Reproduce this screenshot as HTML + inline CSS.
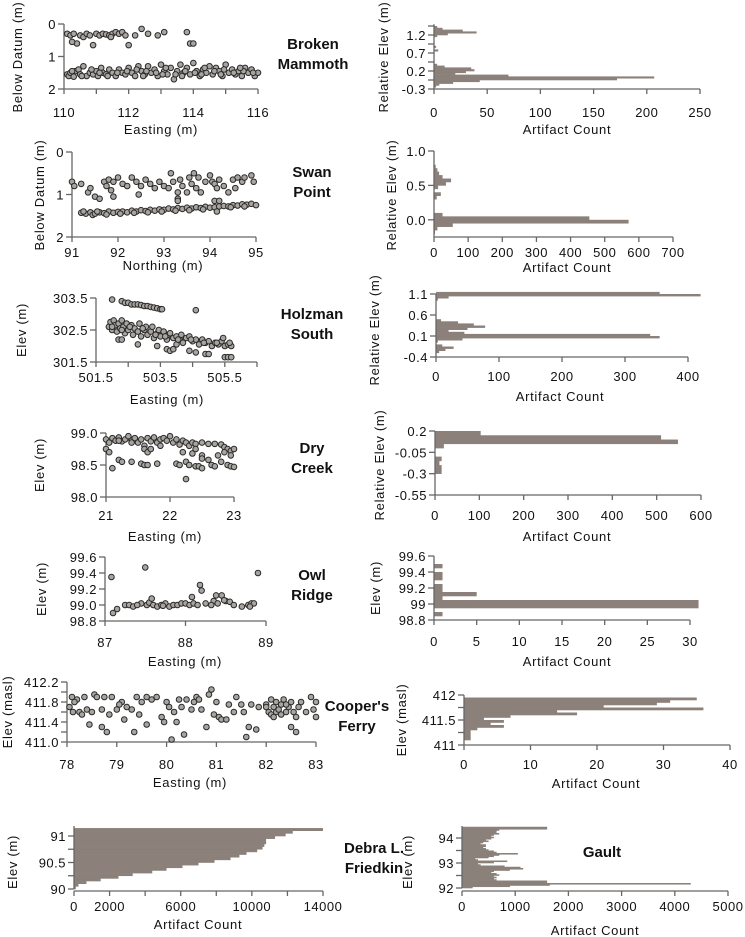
<!DOCTYPE html>
<html><head><meta charset="utf-8"><style>
body{margin:0;background:#fff}
svg{display:block;font-family:"Liberation Sans",sans-serif}
.tk{font-size:13px;fill:#111;letter-spacing:0.5px}
.ti{font-size:13px;fill:#111;letter-spacing:0.7px}
.site{font-size:15px;font-weight:bold;fill:#111}
</style></head><body>
<svg id="fig" width="745" height="937" viewBox="0 0 745 937"></svg>
<script>
// ---------- DATA ----------
const bmX=[110.1,110.2,110.3,110.4,110.5,110.6,110.7,110.8,110.9,111.0,111.1,111.2,111.3,111.4,111.5,111.6,111.7,111.8,111.9,112.0,112.2,112.4,112.6,112.9,113.1,113.8,113.9,114.0,111.45,110.25,
110.1,110.15,110.2,110.3,110.35,110.45,110.5,110.6,110.7,110.8,110.9,111.0,111.05,111.15,111.2,111.3,111.4,111.5,111.6,111.7,111.8,111.9,112.0,112.1,112.2,112.3,112.4,112.5,112.6,112.7,112.8,112.9,113.0,113.1,113.2,113.3,113.4,113.5,113.6,113.7,113.8,113.9,114.0,114.1,114.2,114.3,114.4,114.5,114.6,114.7,114.8,114.9,115.0,115.1,115.2,115.3,115.4,115.5,115.6,115.7,115.8,115.9,116.0,
110.25,110.55,110.85,111.1,111.35,111.65,111.95,112.25,112.55,112.85,113.15,113.45,113.75,114.05,114.35,114.65,114.95,115.25,115.55,115.85,112.45,113.05,113.65,114.25,114.85,115.45];
const bmY=[0.3,0.35,0.3,0.6,0.35,0.4,0.3,0.35,0.65,0.3,0.35,0.3,0.32,0.35,0.3,0.25,0.3,0.25,0.35,0.65,0.35,0.15,0.3,0.35,0.25,0.25,0.6,0.6,0.4,0.55,
1.55,1.6,1.5,1.62,1.45,1.4,1.55,1.3,1.6,1.5,1.55,1.45,1.6,1.35,1.5,1.55,1.4,1.5,1.6,1.4,1.5,1.55,1.35,1.5,1.6,1.3,1.45,1.55,1.3,1.5,1.4,1.6,1.25,1.45,1.55,1.35,1.7,1.45,1.25,1.5,1.35,1.55,1.2,1.45,1.6,1.4,1.5,1.3,1.55,1.35,1.45,1.6,1.25,1.5,1.4,1.55,1.45,1.6,1.35,1.5,1.4,1.6,1.5,
1.45,1.6,1.4,1.5,1.6,1.5,1.45,1.4,1.45,1.5,1.35,1.55,1.45,1.5,1.35,1.45,1.4,1.5,1.45,1.5,1.6,1.55,1.6,1.55,1.55,1.35];
const spX=[91.0,91.05,91.2,91.35,91.4,91.5,91.6,91.7,91.75,91.8,91.85,91.9,92.0,92.1,92.2,92.3,92.4,92.45,92.5,92.6,92.7,92.8,92.9,93.0,93.1,93.15,93.2,93.3,93.35,93.4,93.5,93.55,93.6,93.65,93.7,93.75,93.8,93.9,94.0,94.05,94.1,94.15,94.2,94.3,94.4,94.5,94.55,94.6,94.7,94.75,94.9,94.95,94.1,94.2,93.3,91.9,
91.2,91.3,91.4,91.45,91.5,91.6,91.7,91.8,91.9,92.0,92.1,92.2,92.3,92.4,92.5,92.6,92.7,92.8,92.9,93.0,93.1,93.2,93.3,93.4,93.5,93.6,93.7,93.8,93.9,94.0,94.1,94.2,94.3,94.4,94.5,94.6,94.7,94.8,94.9,95.0,91.55,91.75,92.05,92.35,92.65,92.95,93.25,93.55,93.85,94.15,94.45,94.75,93.3,91.25];
const spY=[0.7,0.8,0.75,0.95,0.85,1.05,1.1,0.7,0.8,0.65,0.9,0.7,0.6,0.75,0.8,0.6,0.7,1.0,0.8,0.65,0.75,0.85,0.7,0.8,0.85,0.5,0.7,0.95,0.65,0.8,0.95,0.6,0.75,0.5,0.85,0.6,0.95,0.7,0.55,0.7,0.75,0.85,0.65,0.8,0.95,0.65,0.85,0.6,0.7,0.6,0.55,0.7,1.15,1.15,1.1,1.05,
1.43,1.45,1.42,1.48,1.45,1.42,1.44,1.4,1.43,1.41,1.4,1.42,1.38,1.4,1.37,1.39,1.36,1.38,1.35,1.36,1.33,1.35,1.32,1.34,1.31,1.33,1.3,1.32,1.29,1.31,1.3,1.28,1.27,1.28,1.25,1.26,1.23,1.24,1.22,1.25,1.4,1.47,1.45,1.43,1.42,1.4,1.38,1.37,1.35,1.4,1.3,1.28,1.15,1.4];
const hsX=[501.9,501.95,502.0,502.05,502.1,502.15,502.2,502.25,502.3,502.35,502.4,502.45,502.5,502.6,502.65,502.7,502.8,502.85,502.9,503.0,503.05,503.1,503.2,503.25,503.3,503.4,503.45,503.5,503.6,503.7,503.75,503.8,503.9,504.0,504.1,504.15,504.2,504.3,504.4,504.5,504.6,504.7,504.8,504.9,505.0,505.1,505.2,505.3,505.4,505.5,505.6,505.7,505.65,505.45,
502.2,502.3,502.8,503.4,503.7,503.8,503.9,504.4,504.6,504.9,505.0,505.5,505.6,505.7,504.0,
502.0,502.3,502.4,502.5,502.6,502.7,502.8,502.9,503.0,503.1,503.2,503.3,503.4,503.5,503.55,504.6,
502.0,502.3,502.55,502.95,503.35,503.65,504.05,504.45,504.85,505.25];
const hsY=[302.6,302.75,302.5,302.8,302.65,302.45,302.7,302.55,302.8,302.6,302.4,302.7,302.5,302.65,302.35,302.55,302.45,302.7,302.3,302.5,302.6,302.35,302.45,302.6,302.25,302.4,302.5,302.3,302.45,302.2,302.35,302.4,302.25,302.3,302.2,302.35,302.1,302.25,302.3,302.15,302.2,302.05,302.2,302.1,302.15,302.0,302.1,302.05,302.15,302.0,302.05,302.0,302.1,302.25,
302.2,302.2,302.05,302.0,301.9,301.85,301.9,301.85,301.8,301.75,301.75,301.65,301.65,301.65,302.05,
303.45,303.4,303.35,303.35,303.3,303.3,303.3,303.28,303.25,303.25,303.22,303.2,303.18,303.15,303.15,303.12,
302.6,302.5,302.6,302.55,302.35,302.3,302.2,302.2,302.1,302.1];
const dcX=[21.0,21.05,21.1,21.15,21.2,21.25,21.3,21.35,21.4,21.45,21.5,21.55,21.6,21.65,21.7,21.75,21.8,21.85,21.9,21.95,22.0,22.05,22.1,22.15,22.2,22.25,22.3,22.35,22.4,22.5,22.6,22.7,22.8,22.85,22.9,22.95,23.0,22.95,21.6,21.65,21.7,22.2,22.35,21.85,21.4,21.2,
21.0,21.05,21.1,21.2,21.25,21.4,21.55,21.6,21.65,21.8,22.1,22.15,22.25,22.3,22.4,22.45,22.5,22.25,22.5,22.5,22.6,22.65,22.7,22.75,22.8,22.9,22.95,23.0,22.85,22.4];
const dcY=[98.9,98.85,98.92,98.88,98.93,98.87,98.9,98.95,98.88,98.92,98.85,98.9,98.8,98.92,98.87,98.93,98.85,98.9,98.92,98.88,98.95,98.85,98.9,98.82,98.88,98.85,98.8,98.85,98.83,98.85,98.83,98.83,98.82,98.78,98.75,98.72,98.75,98.65,98.75,98.7,98.75,98.7,98.68,98.8,98.85,98.88,
98.75,98.7,98.45,98.58,98.55,98.55,98.52,98.5,98.5,98.52,98.52,98.5,98.55,98.5,98.48,98.48,98.45,98.28,98.65,98.6,98.58,98.5,98.48,98.65,98.55,98.5,98.48,98.47,98.7,98.75];
const orX=[87.08,87.1,87.15,87.25,87.3,87.35,87.45,87.5,87.52,87.55,87.58,87.6,87.65,87.7,87.75,87.8,87.85,87.9,87.95,88.0,88.05,88.08,88.1,88.15,88.18,88.2,88.25,88.35,88.38,88.4,88.45,88.5,88.55,88.6,88.7,88.78,88.82,88.85,88.9,87.4,87.72,88.32,88.48,88.8];
const orY=[99.35,98.9,98.95,99.0,99.0,98.98,99.02,99.47,99.0,99.03,99.08,99.0,98.98,99.0,99.02,98.98,99.0,99.0,99.02,99.02,99.0,99.1,99.02,99.0,99.25,99.18,99.02,99.05,99.12,99.02,99.12,99.05,99.04,99.0,98.98,99.0,99.02,99.02,99.4,99.0,98.99,99.0,99.06,98.98];
const cfX=[78.05,78.1,78.12,78.2,78.25,78.3,78.35,78.4,78.45,78.5,78.55,78.6,78.7,78.7,78.75,78.8,78.85,78.9,79.0,79.1,79.15,79.2,79.3,79.35,79.4,79.45,79.5,79.6,79.6,79.7,79.8,79.9,79.95,80.0,80.05,80.1,80.15,80.2,80.25,80.3,80.35,80.4,80.5,80.55,80.6,80.7,80.8,80.85,80.9,80.95,81.0,81.05,81.1,81.2,81.25,81.4,81.5,81.55,81.6,81.65,81.7,81.8,81.85,82.0,82.05,82.1,82.1,82.15,82.2,82.2,82.25,82.3,82.3,82.35,82.4,82.45,82.5,82.5,82.55,82.6,82.6,82.65,82.7,82.8,82.9,82.95,83.0,83.0,82.0,82.15,82.4,78.15,79.05,80.65,81.35];
const cfY=[411.7,411.9,411.6,411.85,411.6,411.55,411.9,411.65,411.35,411.6,411.95,411.9,411.65,411.3,411.9,411.2,411.55,411.9,411.65,411.8,411.45,411.7,411.65,411.2,411.9,411.55,411.8,411.35,411.9,411.85,411.9,411.5,411.4,411.8,411.7,411.05,411.6,411.4,411.85,411.7,411.15,411.85,411.65,411.8,411.9,411.65,411.3,411.95,412.05,411.55,411.8,411.5,411.45,411.45,411.75,411.9,411.75,411.6,411.1,411.3,411.75,411.25,411.7,411.75,411.6,411.85,411.55,411.7,411.8,411.6,411.65,411.75,411.55,411.85,411.6,411.7,411.8,411.3,411.6,411.5,411.2,411.7,411.8,411.6,411.9,411.65,411.5,411.8,411.7,411.5,411.75,411.8,411.75,411.85,411.6];

const bmhBins=[1.4,1.35,1.3,1.25,1.2,1.15,0.85,0.75,0.35,0.3,0.25,0.2,0.15,0.1,0.05,0.0,-0.05,-0.1,-0.15,-0.2,-0.25];
const bmhCounts=[3,8,27,40,13,3,2,4,3,10,35,38,30,20,70,207,172,43,18,5,2];
const sphBins=[0.75,0.7,0.65,0.6,0.55,0.5,0.45,0.35,0.3,0.05,0.0,-0.05,-0.1,-0.15,-0.2];
const sphCounts=[5,10,15,25,50,35,12,20,8,25,455,570,55,10,3];
const hshBins=[1.1,1.05,1.0,0.95,0.45,0.4,0.35,0.3,0.25,0.2,0.15,0.1,0.05,0.0,-0.05,-0.15,-0.2,-0.25,-0.3];
const hshCounts=[355,420,20,3,8,35,60,78,50,20,45,340,355,42,3,10,28,15,5];
const dchBins=[0.15,0.1,0.05,0.0,-0.15,-0.2,-0.25,-0.3];
const dchCounts=[103,510,548,20,15,10,15,15];
const orhBins=[99.45,99.35,99.3,99.2,99.15,99.1,99.05,99.0,98.95,98.85];
const orhCounts=[1,1,1,1,1,5,1,31,31,1];
const cfhBins=[411.9,411.85,411.8,411.75,411.7,411.65,411.6,411.55,411.5,411.45,411.4,411.35,411.3,411.25,411.2,411.15,411.1];
const cfhCounts=[35,31,29,21,36,14,17,7,3,6,4,6,2,1,1,1,1];
const dlfBins=[90.0,90.05,90.1,90.15,90.2,90.25,90.3,90.35,90.4,90.45,90.5,90.55,90.6,90.65,90.7,90.75,90.8,90.85,90.9,90.95,91.0,91.05,91.1];
const dlfCounts=[100,250,700,1500,2500,3300,4400,5200,6100,7000,7900,8800,9300,9700,10300,10600,10700,10800,10800,11300,11900,12300,14000];
const gBins=[92.0,92.05,92.1,92.15,92.2,92.25,92.3,92.35,92.4,92.45,92.5,92.55,92.6,92.65,92.7,92.75,92.8,92.85,92.9,92.95,93.0,93.05,93.1,93.15,93.2,93.25,93.3,93.35,93.4,93.45,93.5,93.55,93.6,93.65,93.7,93.75,93.8,93.85,93.9,93.95,94.0,94.05,94.1,94.15,94.2,94.25,94.3,94.35,94.4];
const gCounts=[200,900,1650,4300,1600,1600,650,600,650,600,700,650,550,600,900,1150,1100,800,350,300,600,850,300,250,500,600,700,1050,650,600,500,450,400,450,450,350,400,500,450,550,600,550,600,700,650,650,700,1600,1600];

// ---------- DRAW ----------
const NS='http://www.w3.org/2000/svg';
const svg=document.getElementById('fig');
function mk(tag,attrs,parent){const e=document.createElementNS(NS,tag);for(const k in attrs)e.setAttribute(k,attrs[k]);(parent||svg).appendChild(e);return e;}
function lin(d0,d1,p0,p1){return v=>p0+(v-d0)*(p1-p0)/(d1-d0);}
function txt(g,x,y,s,cls,anchor,rot){const t=mk('text',{x:x,y:y,'class':cls,'text-anchor':anchor||'middle'},g);
 if(rot)t.setAttribute('transform','rotate(-90 '+x+' '+y+')');t.textContent=s;return t;}
function axes(g,c,sx,sy){
 const ax=mk('g',{},g);
 
 
 const col='#666';
 const ylo=sy(c.ymin), yhi=c.ytop!==undefined?c.ytop:sy(c.ymax);
 const off=c.xlo||20;
 mk('line',{x1:c.ax,y1:yhi,x2:c.ax,y2:ylo,stroke:col,'stroke-width':1.3},ax);
 mk('line',{x1:c.ax,y1:c.ay,x2:sx(c.xmax),y2:c.ay,stroke:col,'stroke-width':1.3},ax);
 c.xt.forEach(v=>mk('line',{x1:sx(v),y1:c.ay,x2:sx(v),y2:c.ay+5,stroke:col,'stroke-width':1.3},ax));
 c.xl.forEach(v=>txt(ax,sx(v),c.ay+off,String(v),'tk'));
 c.yt.forEach(v=>mk('line',{x1:c.ax-6,y1:sy(v),x2:c.ax,y2:sy(v),stroke:col,'stroke-width':1.3},ax));
 c.yl.forEach((v,i)=>txt(ax,c.ax-8,sy(v)+5,c.yls?c.yls[i]:String(v),'tk','end'));
 txt(ax,c.xtx,c.xty,c.xtitle,'ti');
 txt(ax,c.ytx,c.yty,c.ytitle,'ti','middle',true);
}
function scatter(name,c,xs,ys){
 const g=mk('g',{});
 
 
 const sx=lin(c.xmin,c.xmax,c.px0,c.px1), sy=lin(c.ymin,c.ymax,c.py0,c.py1);
 axes(g,c,sx,sy);
 xs.forEach((x,i)=>{const p=mk('circle',{cx:sx(x),cy:sy(ys[i]),r:2.8,fill:'#a8a4a0',stroke:'#2a2a2a','stroke-width':1},g);
  
  });
}
function hist(name,c,bins,counts,bw){
 const g=mk('g',{});
 
 
 const sx=lin(c.xmin,c.xmax,c.px0,c.px1), sy=lin(c.ymin,c.ymax,c.py0,c.py1);
 bins.forEach((b,i)=>{const y1=sy(b+bw),y0=sy(b);
  const r=mk('rect',{x:sx(0),y:Math.min(y0,y1),width:Math.max(0,sx(counts[i])-sx(0)),height:Math.abs(y0-y1)+0.3,fill:'#8b807a'},g);
  
  });
 axes(g,c,sx,sy);
}
function label(name,x,y,lines){const g=mk('g',{});
 
 
 lines.forEach((s,i)=>txt(g,x,y+i*20,s,'site'));}

scatter('broken-mammoth-scatter',{xmin:110,xmax:116,px0:64,px1:258,ymin:2,ymax:0,py0:89,py1:24,ax:64,ay:89,xlo:28,
 xt:[110,111,112,113,114,115,116],xl:[110,112,114,116],yt:[0,1,2],yl:[0,1,2],xtitle:'Easting (m)',xtx:161,xty:134,ytitle:'Below Datum (m)',ytx:22,yty:57},bmX,bmY);
scatter('swan-point-scatter',{xmin:91,xmax:95,px0:72,px1:256,ymin:2,ymax:0,py0:237,py1:152,ax:72,ay:237,
 xt:[91,92,93,94,95],xl:[91,92,93,94,95],yt:[0,1,2],yl:[0,1,2],xtitle:'Northing (m)',xtx:163,xty:270,ytitle:'Below Datum (m)',ytx:44,yty:195},spX,spY);
scatter('holzman-south-scatter',{xmin:501.5,xmax:506.5,px0:96,px1:257,ymin:301.5,ymax:303.5,py0:362,py1:298,ax:96,ay:362,
 xt:[501.5,502.5,503.5,504.5,505.5,506.5],xl:[501.5,503.5,505.5],yt:[301.5,302.5,303.5],yl:[301.5,302.5,303.5],xtitle:'Easting (m)',xtx:167,xty:404,ytitle:'Elev (m)',ytx:26,yty:330},hsX,hsY);
scatter('dry-creek-scatter',{xmin:21,xmax:23,px0:106,px1:234,ymin:98,ymax:99,py0:497,py1:433,ax:106,ay:497,xlo:23,
 xt:[21,22,23],xl:[21,22,23],yt:[98,98.5,99],yl:[98,98.5,99],yls:['98.0','98.5','99.0'],xtitle:'Easting (m)',xtx:165,xty:541,ytitle:'Elev (m)',ytx:44,yty:465},dcX,dcY);
scatter('owl-ridge-scatter',{xmin:87,xmax:89,px0:105,px1:266,ymin:98.8,ymax:99.6,py0:621,py1:557,ax:105,ay:621,xlo:26,
 xt:[87,88,89],xl:[87,88,89],yt:[98.8,99,99.2,99.4,99.6],yl:[98.8,99,99.2,99.4,99.6],yls:['98.8','99.0','99.2','99.4','99.6'],xtitle:'Easting (m)',xtx:185,xty:666,ytitle:'Elev (m)',ytx:46,yty:589},orX,orY);
scatter('coopers-ferry-scatter',{xmin:78,xmax:83,px0:67,px1:316,ymin:411,ymax:412.2,py0:742,py1:682,ax:67,ay:742,xlo:27,
 xt:[78,79,80,81,82,83],xl:[78,79,80,81,82,83],yt:[411,411.2,411.4,411.6,411.8,412,412.2],yl:[411,411.4,411.8,412.2],yls:['411.0','411.4','411.8','412.2'],xtitle:'Easting (m)',xtx:190,xty:787,ytitle:'Elev (masl)',ytx:12,yty:712},cfX,cfY);

hist('broken-mammoth-histogram',{xmin:0,xmax:250,px0:434,px1:700,ymin:-0.3,ymax:1.5,py0:89,py1:24.2,ax:434,ay:89,xlo:28,
 xt:[0,50,100,150,200,250],xl:[0,50,100,150,200,250],yt:[-0.3,-0.05,0.2,0.45,0.7,0.95,1.2,1.45],yl:[-0.3,0.2,0.7,1.2],yls:['-0.3','0.2','0.7','1.2'],xtitle:'Artifact Count',xtx:567,xty:134,ytitle:'Relative Elev (m)',ytx:388,yty:57},bmhBins,bmhCounts,0.05);
hist('swan-point-histogram',{xmin:0,xmax:700,px0:434,px1:673,ymin:-0.25,ymax:1.0,py0:237,py1:151,ax:434,ay:237,
 xt:[0,100,200,300,400,500,600,700],xl:[0,100,200,300,400,500,600,700],yt:[0,0.5,1],yl:[0,0.5,1],yls:['0.0','0.5','1.0'],xtitle:'Artifact Count',xtx:567,xty:272,ytitle:'Relative Elev (m)',ytx:396,yty:195},sphBins,sphCounts,0.05);
hist('holzman-south-histogram',{xmin:0,xmax:400,px0:436,px1:688,ymin:-0.4,ymax:1.1,py0:357,py1:294,ax:436,ay:357,xlo:24,
 xt:[0,100,200,300,400],xl:[0,100,200,300,400],yt:[-0.4,0.1,0.6,1.1],yl:[-0.4,0.1,0.6,1.1],yls:['-0.4','0.1','0.6','1.1'],xtitle:'Artifact Count',xtx:560,xty:401,ytitle:'Relative Elev (m)',ytx:379,yty:330},hshBins,hshCounts,0.05);
hist('dry-creek-histogram',{xmin:0,xmax:600,px0:435,px1:701,ymin:-0.55,ymax:0.2,py0:495,py1:431,ax:435,ay:495,xlo:25,
 xt:[0,100,200,300,400,500,600],xl:[0,100,200,300,400,500,600],yt:[-0.55,-0.3,-0.05,0.2],yl:[-0.55,-0.3,-0.05,0.2],xtitle:'Artifact Count',xtx:567,xty:541,ytitle:'Relative Elev (m)',ytx:384,yty:465},dchBins,dchCounts,0.05);
hist('owl-ridge-histogram',{xmin:0,xmax:30,px0:434,px1:690,ymin:98.8,ymax:99.6,py0:620,py1:556,ax:434,ay:620,xlo:26,
 xt:[0,5,10,15,20,25,30],xl:[0,5,10,15,20,25,30],yt:[98.8,99,99.2,99.4,99.6],yl:[98.8,99,99.2,99.4,99.6],xtitle:'Artifact Count',xtx:567,xty:666,ytitle:'Elev (m)',ytx:380,yty:588},orhBins,orhCounts,0.05);
hist('coopers-ferry-histogram',{xmin:0,xmax:40,px0:464,px1:730,ymin:411,ymax:412,py0:745,py1:695,ax:464,ay:745,xlo:24,
 xt:[0,10,20,30,40],xl:[0,10,20,30,40],yt:[411,411.25,411.5,411.75,412],yl:[411,411.5,412],xtitle:'Artifact Count',xtx:596,xty:788,ytitle:'Elev (masl)',ytx:406,yty:720},cfhBins,cfhCounts,0.05);
hist('debra-friedkin-histogram',{xmin:0,xmax:14000,px0:74,px1:323,ymin:90,ymax:91,py0:889,py1:836,ax:74,ay:891,ytop:826,
 xt:[0,2000,4000,6000,8000,10000,12000,14000],xl:[0,2000,6000,10000,14000],yt:[90,90.25,90.5,90.75,91],yl:[90,90.5,91],xtitle:'Artifact Count',xtx:198,xty:929,ytitle:'Elev (m)',ytx:17,yty:862},dlfBins,dlfCounts,0.05);
hist('gault-histogram',{xmin:0,xmax:5000,px0:462,px1:728,ymin:92,ymax:94,py0:888,py1:838,ax:462,ay:891,ytop:826,
 xt:[0,1000,2000,3000,4000,5000],xl:[0,1000,2000,3000,4000,5000],yt:[92,92.5,93,93.5,94],yl:[92,93,94],xtitle:'Artifact Count',xtx:595,xty:935,ytitle:'Elev (m)',ytx:412,yty:862},gBins,gCounts,0.05);

label('broken-mammoth-label',313,49,['Broken','Mammoth']);
label('swan-point-label',312,177,['Swan','Point']);
label('holzman-south-label',312,319,['Holzman','South']);
label('dry-creek-label',312,453,['Dry','Creek']);
label('owl-ridge-label',312,580,['Owl','Ridge']);
label('coopers-ferry-label',357,711,["Cooper's",'Ferry']);
label('debra-friedkin-label',374,853,['Debra L.','Friedkin']);
label('gault-label',602,857,['Gault']);
</script>
</body></html>
